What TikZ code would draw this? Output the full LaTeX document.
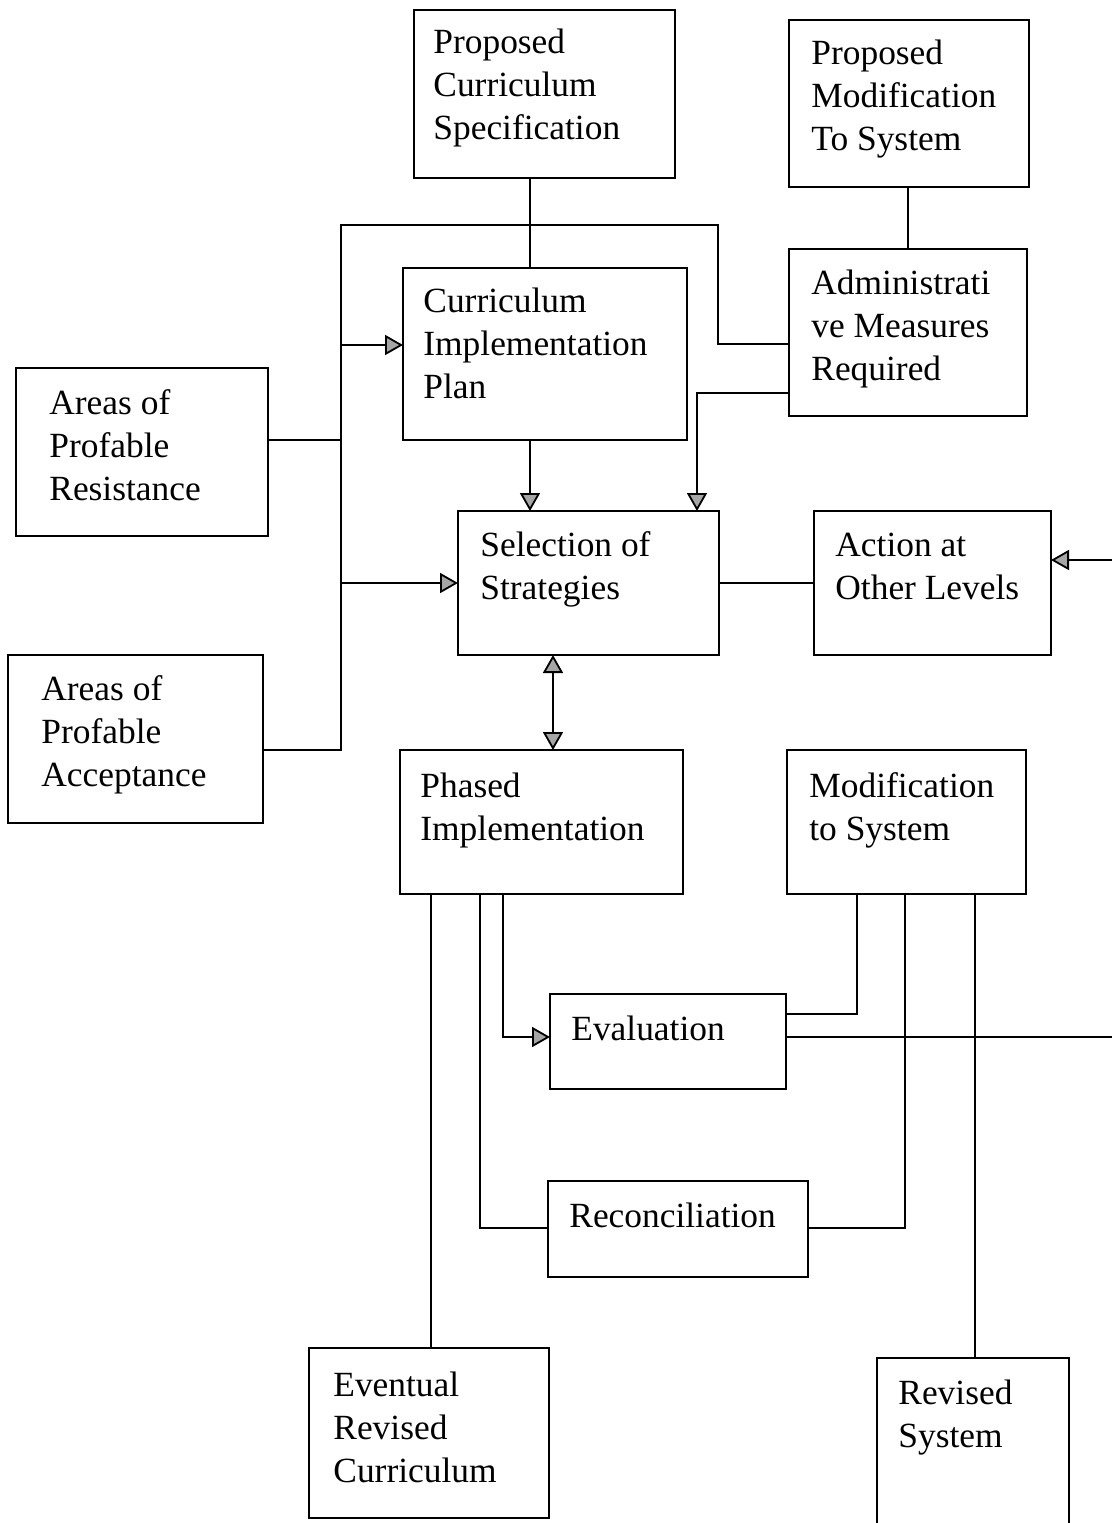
\documentclass[tikz,border=0pt]{standalone}
\usepackage{fontspec}
\setmainfont{Liberation Serif}
\usetikzlibrary{arrows.meta,calc}
\begin{document}
\begin{tikzpicture}[x=0.5pt,y=-0.5pt,
  box/.style 2 args={draw, line width=0.9pt, anchor=north west, inner sep=0pt, outer sep=0pt,
     minimum width=#1*0.5pt, minimum height=#2*0.5pt},
  lbl/.style={anchor=base west, align=left, inner sep=0pt, font=\fontsize{17.7}{21.5}\selectfont},
  conn/.style={line width=0.9pt},
  tip/.tip={Triangle[length=9pt,width=10pt,fill=gray!70]},
  arr/.style={conn, -tip},
  darr/.style={conn, tip-tip}
]
\useasboundingbox (0,0) rectangle (1112,1523);
\clip (0,0) rectangle (1112,1523);

% boxes (label anchors are at the baseline of the last line)
\node[box={261}{168}] (pcs) at (414,10) {};
\node[lbl] (pcs-t) at (433,139) {Proposed\\Curriculum\\Specification};
\node[box={240}{167}] (pmod) at (789,20) {};
\node[lbl] (pmod-t) at (811,150) {Proposed\\Modification\\To System};
\node[box={284}{172}] (cip) at (403,268) {};
\node[lbl] (cip-t) at (423,398) {Curriculum\\Implementation\\Plan};
\node[box={238}{167}] (adm) at (789,249) {};
\node[lbl] (adm-t) at (811,380) {Administrati\\ve Measures\\Required};
\node[box={252}{168}] (apr) at (16,368) {};
\node[lbl] (apr-t) at (49,500) {Areas of\\Profable\\Resistance};
\node[box={261}{144}] (sel) at (458,511) {};
\node[lbl] (sel-t) at (480,599) {Selection of\\Strategies};
\node[box={237}{144}] (act) at (814,511) {};
\node[lbl] (act-t) at (835,599) {Action at\\Other Levels};
\node[box={255}{168}] (apa) at (8,655) {};
\node[lbl] (apa-t) at (41,786) {Areas of\\Profable\\Acceptance};
\node[box={283}{144}] (phi) at (400,750) {};
\node[lbl] (phi-t) at (420,840) {Phased\\Implementation};
\node[box={239}{144}] (mts) at (787,750) {};
\node[lbl] (mts-t) at (809,840) {Modification\\to System};
\node[box={236}{95}] (eva) at (550,994) {};
\node[lbl] (eva-t) at (571,1040) {Evaluation};
\node[box={260}{96}] (rec) at (548,1181) {};
\node[lbl] (rec-t) at (569,1227) {Reconciliation};
\node[box={240}{170}] (erc) at (309,1348) {};
\node[lbl] (erc-t) at (333,1482) {Eventual\\Revised\\Curriculum};
\node[box={192}{190}] (rsy) at (877,1358) {};
\node[lbl] (rsy-t) at (898,1447) {Revised\\System};

% connectors
\draw[conn] (530,0 |- pcs.south) -- (530,0 |- cip.north);
\draw[conn] (908,0 |- pmod.south) -- (908,0 |- adm.north);
\draw[conn] (adm.west |- 0,344) -- (718,344) -- (718,225) -- (341,225) -- (341,750) -- (apa.east |- 0,750);
\draw[arr] (341,345) -- (cip.west |- 0,345);
\draw[conn] (apr.east |- 0,440) -- (341,440);
\draw[arr] (341,583) -- (sel.west |- 0,583);
\draw[arr] (530,0 |- cip.south) -- (530,0 |- sel.north);
\draw[arr] (adm.west |- 0,393) -- (697,393) -- (697,0 |- sel.north);
\draw[conn] (sel.east) -- (act.west);
\coordinate (rin) at (1112,560);
\draw[arr] (rin) -- (act.east |- rin);
\draw[darr] (553,0 |- sel.south) -- (553,0 |- phi.north);
\draw[conn] (431,0 |- phi.south) -- (431,0 |- erc.north);
\draw[conn] (480,0 |- phi.south) -- (480,1228) -- (rec.west |- 0,1228);
\draw[arr] (503,0 |- phi.south) -- (503,1037) -- (eva.west |- 0,1037);
\draw[conn] (857,0 |- mts.south) -- (857,1014) -- (eva.east |- 0,1014);
\draw[conn] (905,0 |- mts.south) -- (905,1228) -- (rec.east |- 0,1228);
\draw[conn] (975,0 |- mts.south) -- (975,0 |- rsy.north);
\coordinate (rout) at (1112,1037);
\draw[conn] (eva.east |- rout) -- (rout);
\end{tikzpicture}
\end{document}
